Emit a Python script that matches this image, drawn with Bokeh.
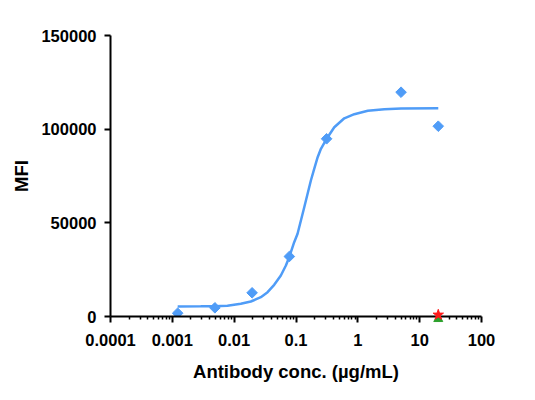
import numpy as np
from bokeh.plotting import figure
from bokeh.models import FixedTicker, CustomJSTickFormatter, NumeralTickFormatter
from bokeh.embed import file_html
from bokeh.resources import INLINE

# measured points (antibody concentration in ug/mL, MFI)
conc = [0.00122, 0.00488, 0.0195, 0.0781, 0.3125, 5, 20]
mfi = [1760, 4640, 12650, 32030, 94860, 119730, 101580]

# fitted curve
curve_x = [0.00122, 0.00288, 0.00472, 0.00778, 0.0128, 0.0186, 0.0270, 0.0347,
           0.0444, 0.0569, 0.0686, 0.0776, 0.0935, 0.106, 0.136, 0.174, 0.197,
           0.224, 0.253, 0.317, 0.416, 0.604, 0.877, 1.45, 2.69, 5.01, 20]
curve_y = [5400, 5450, 5500, 5710, 6780, 8010, 10300, 12970,
           16920, 21890, 27220, 31650, 39660, 44150, 58340, 72600, 78840,
           85030, 89520, 95180, 101000, 105800, 108000, 109800, 110660, 111030, 111200]

# controls at the top concentration
ctrl_x = [20]
star_y = [900]
tri_y = [-1300]

x_ticks = [0.0001, 0.001, 0.01, 0.1, 1, 10, 100]
y_ticks = [0, 50000, 100000, 150000]

BLUE = "#4f9cf7"
FONT = "Liberation Sans"

p = figure(width=527, height=392, x_axis_type="log",
           x_range=(0.0001, 100), y_range=(0, 150000),
           output_backend="svg", toolbar_location=None,
           min_border_left=110, min_border_right=46,
           min_border_top=35, min_border_bottom=76)

p.line(curve_x, curve_y, line_color=BLUE, line_width=2.5)
p.scatter(conc, mfi, marker="square", angle=np.pi / 4, size=7.5,
          fill_color=BLUE, line_color=BLUE)
t = p.scatter(ctrl_x, tri_y, marker="triangle", size=9,
              fill_color="#2ca02c", line_color="#2ca02c")
s = p.scatter(ctrl_x, star_y, marker="star", size=11,
              fill_color="#ff1a1a", line_color="#ff1a1a")
t.level = "overlay"
s.level = "overlay"

p.grid.visible = False
p.outline_line_color = None

minor = [m * 10.0 ** e for e in range(-4, 2) for m in range(2, 10)]
p.xaxis.ticker = FixedTicker(ticks=x_ticks, minor_ticks=minor)
p.xaxis.formatter = CustomJSTickFormatter(code="return String(tick)")
p.yaxis.ticker = FixedTicker(ticks=y_ticks)
p.yaxis.formatter = NumeralTickFormatter(format="0")

p.xaxis.axis_label = "Antibody conc. (µg/mL)"
p.yaxis.axis_label = "MFI"

for ax in (p.xaxis, p.yaxis):
    ax.axis_line_width = 2
    ax.axis_line_color = "black"
    ax.major_tick_line_width = 2
    ax.major_tick_line_color = "black"
    ax.major_tick_in = 0
    ax.major_tick_out = 6
    ax.minor_tick_line_width = 1.5
    ax.minor_tick_line_color = "black"
    ax.minor_tick_in = 0
    ax.minor_tick_out = 3
    ax.major_label_text_font = FONT
    ax.major_label_text_font_style = "bold"
    ax.major_label_text_font_size = "16.5px"
    ax.major_label_text_color = "black"
    ax.axis_label_text_font = FONT
    ax.axis_label_text_font_style = "bold"
    ax.axis_label_text_font_size = "18.5px"
    ax.axis_label_text_color = "black"

p.xaxis.major_label_standoff = 11
p.xaxis.axis_label_standoff = 12
p.yaxis.major_label_standoff = 8
p.yaxis.axis_label_standoff = 6

open("out.html", "w").write(file_html(p, INLINE))
